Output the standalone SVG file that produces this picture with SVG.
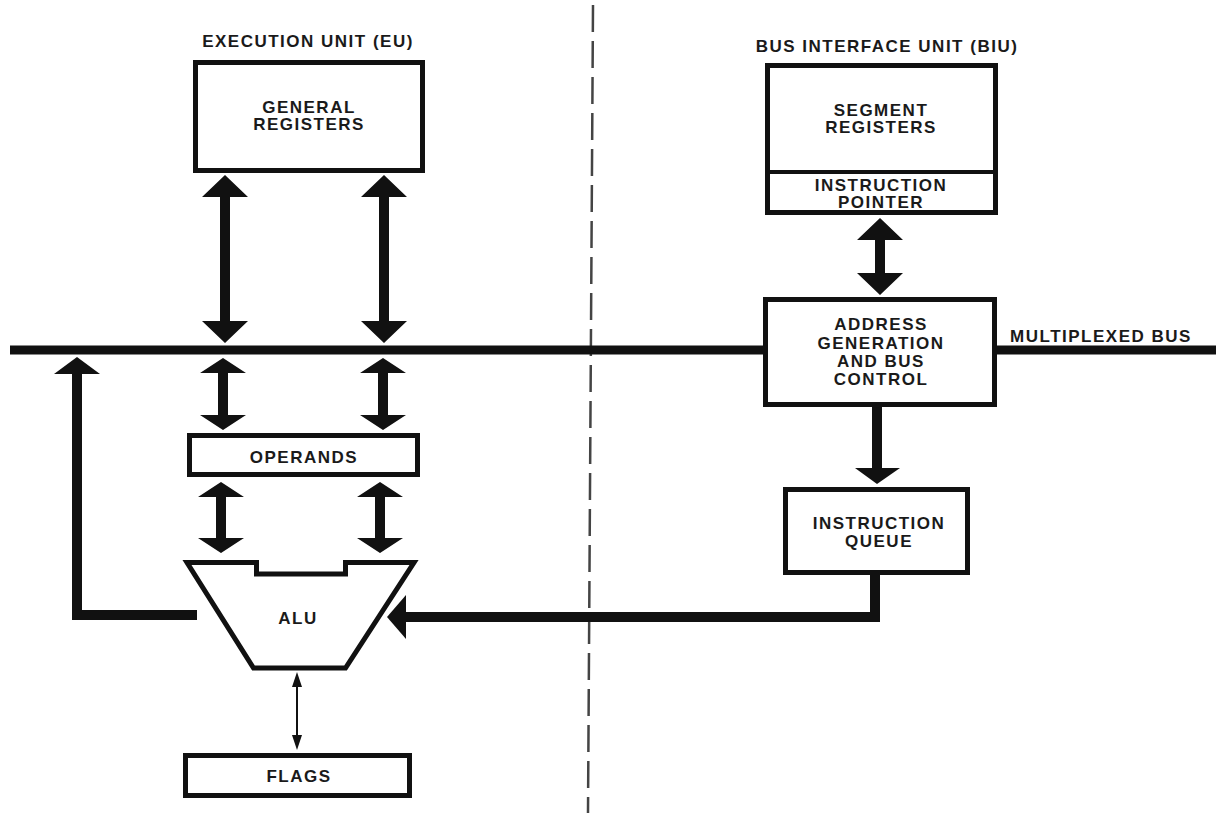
<svg xmlns="http://www.w3.org/2000/svg" width="1216" height="813" viewBox="0 0 1216 813">
<style>
.box{fill:#fff;stroke:#111;stroke-width:5}
.t{font-family:"Liberation Sans",Arial,sans-serif;font-weight:bold;font-size:17px;letter-spacing:1.5px;fill:#1a1a1a;text-anchor:middle}
.wire{fill:none;stroke:#111;stroke-width:10}
.head{fill:#111}
</style>
<rect width="1216" height="813" fill="#fff"/>
<g id="divider">
<line x1="593" y1="5" x2="588" y2="813" stroke="#444" stroke-width="2.5" stroke-dasharray="27 9"/>
</g>
<g id="titles">
<text class="t" x="308" y="47">EXECUTION UNIT (EU)</text>
<text class="t" x="887" y="52">BUS INTERFACE UNIT (BIU)</text>
<text class="t" x="1101" y="342">MULTIPLEXED BUS</text>
</g>
<g id="connectors">
<line x1="10" y1="350" x2="1216" y2="350" stroke="#111" stroke-width="9"/>
<polygon class="head" points="225,175 248,197 230,197 230,321 248,321 225,343 202,321 220,321 220,197 202,197"/>
<polygon class="head" points="384,175 407,197 389,197 389,321 407,321 384,343 361,321 379,321 379,197 361,197"/>
<polygon class="head" points="223,358 246,373 228,373 228,415 246,415 223,430 200,415 218,415 218,373 200,373"/>
<polygon class="head" points="383,358 406,373 388,373 388,415 406,415 383,430 360,415 378,415 378,373 360,373"/>
<polygon class="head" points="221,482 244,497 226,497 226,538 244,538 221,553 198,538 216,538 216,497 198,497"/>
<polygon class="head" points="380,482 403,497 385,497 385,538 403,538 380,553 357,538 375,538 375,497 357,497"/>
<polygon class="head" points="880,218 903,240 885,240 885,273 903,273 880,295 857,273 875,273 875,240 857,240"/>
<line x1="877" y1="407" x2="877" y2="470" stroke="#111" stroke-width="10"/>
<polygon class="head" points="855,468 900,468 877,484"/>
<path class="wire" d="M197,615 H77 V370"/>
<polygon class="head" points="77,357 100,374 54,374"/>
<path class="wire" d="M875,575 V617 H403"/>
<polygon class="head" points="387,617 406,595 406,639"/>
<line x1="297" y1="684" x2="297" y2="738" stroke="#111" stroke-width="2"/>
<polygon class="head" points="297,672 302,687 292,687"/>
<polygon class="head" points="297,750 302,735 292,735"/>
</g>
<g id="general-registers">
<rect class="box" x="195.5" y="62.5" width="227" height="108"/>
<text class="t" x="309" y="113">GENERAL</text>
<text class="t" x="309" y="130">REGISTERS</text>
</g>
<g id="segment-registers">
<rect class="box" x="767.5" y="65.5" width="228" height="147"/>
<line x1="767" y1="172" x2="996" y2="172" stroke="#111" stroke-width="4"/>
<text class="t" x="881" y="116">SEGMENT</text>
<text class="t" x="881" y="133">REGISTERS</text>
<text class="t" x="881" y="191">INSTRUCTION</text>
<text class="t" x="881" y="208">POINTER</text>
</g>
<g id="address-generation">
<rect class="box" x="765.5" y="299.5" width="229" height="105"/>
<text class="t" x="881" y="330">ADDRESS</text>
<text class="t" x="881" y="349">GENERATION</text>
<text class="t" x="881" y="367">AND BUS</text>
<text class="t" x="881" y="385">CONTROL</text>
</g>
<g id="instruction-queue">
<rect class="box" x="785.5" y="489.5" width="182" height="83"/>
<text class="t" x="879" y="529">INSTRUCTION</text>
<text class="t" x="879" y="547">QUEUE</text>
</g>
<g id="operands">
<rect class="box" x="189.5" y="435.5" width="228" height="39"/>
<text class="t" x="304" y="463">OPERANDS</text>
</g>
<g id="alu">
<polygon class="box" points="187,562.5 256.5,562.5 256.5,574 345.5,574 345.5,562.5 414,562.5 345.5,668 253.5,668"/>
<text class="t" x="298" y="624">ALU</text>
</g>
<g id="flags">
<rect class="box" x="185.5" y="755.5" width="224" height="40"/>
<text class="t" x="299" y="782">FLAGS</text>
</g>
</svg>
